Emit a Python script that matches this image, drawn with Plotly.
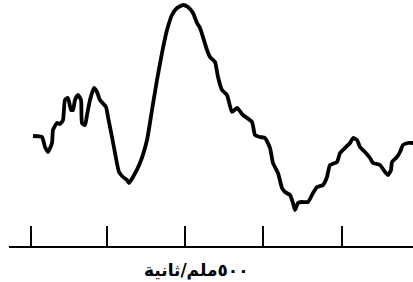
import plotly.graph_objects as go

# waveform samples (time units along the axis, amplitude above baseline)
t = [33, 42, 45, 48, 52, 53, 57, 60, 63, 65, 68, 71, 73, 75, 78, 81, 82, 85, 87, 90, 94, 97, 100,
     106, 108, 112, 115, 119, 123, 127, 129, 133, 140, 147, 152, 157, 162, 167, 172, 177, 183, 188,
     193, 197, 200, 203, 207, 210, 215, 218, 222, 227, 232, 237, 243, 252, 255, 260, 265, 270, 273,
     278, 282, 285, 290, 293, 295, 298, 302, 308, 313, 317, 323, 327, 330, 337, 340, 345, 350, 353,
     357, 360, 365, 370, 373, 380, 385, 388, 391, 392, 397, 400, 403, 408, 413]
py = [136, 137, 147, 152, 143, 130, 123, 124, 120, 100, 98, 110, 110, 100, 95, 100, 123, 125, 115,
      100, 88, 92, 100, 107, 117, 137, 153, 172, 177, 180, 183, 177, 163, 140, 110, 80, 53, 30, 15,
      8, 5, 7, 13, 23, 28, 37, 50, 57, 62, 77, 90, 95, 112, 108, 115, 122, 135, 137, 138, 148, 163,
      173, 188, 192, 195, 203, 210, 203, 202, 202, 193, 187, 185, 177, 165, 162, 153, 148, 143, 138,
      140, 147, 152, 158, 163, 165, 172, 175, 170, 162, 157, 152, 145, 143, 143]
BASE = 246
amp = [BASE - v for v in py]

tick_positions = [31, 107, 185, 263, 342]
label = "٥٠٠ملم/ثانية"

fig = go.Figure()
fig.add_trace(go.Scatter(x=t, y=amp, mode="lines",
                         line=dict(color="black", width=3.8, shape="spline", smoothing=0.5),
                         hoverinfo="skip", showlegend=False))

fig.update_layout(
    width=413, height=282,
    margin=dict(l=9, r=0, t=0, b=36),
    paper_bgcolor="white", plot_bgcolor="white",
    xaxis=dict(range=[9, 413], showgrid=False, zeroline=False, showline=True,
               linecolor="black", linewidth=2, ticks="inside", ticklen=20, tickwidth=2,
               tickcolor="black", tickvals=tick_positions, showticklabels=False, fixedrange=True),
    yaxis=dict(range=[0, 246], visible=False, fixedrange=True),
    annotations=[dict(text=label, xref="paper", yref="paper", x=0.463, y=0, yshift=-24,
                      showarrow=False, yanchor="middle", xanchor="center",
                      font=dict(family="DejaVu Sans", size=17, color="black", weight="bold"))],
)
fig.write_html("out.html", config={"displayModeBar": False},
               post_script="document.body.style.margin='0px';document.body.style.overflow='hidden';")
